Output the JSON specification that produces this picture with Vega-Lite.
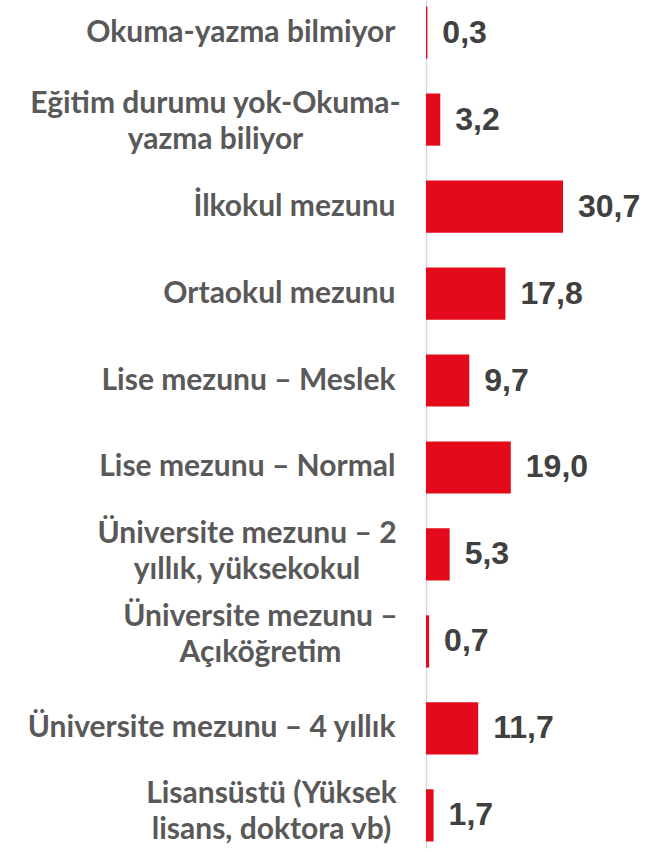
{
  "$schema": "https://vega.github.io/schema/vega-lite/v6.json",
  "width": 241,
  "height": 848,
  "autosize": {"type": "none"},
  "padding": {"left": 426, "top": 0, "right": 0, "bottom": 4},
  "background": "#ffffff",
  "data": {
    "values": [
      {"kategori": "Okuma-yazma bilmiyor", "deger": 0.3},
      {"kategori": "Eğitim durumu yok-Okuma-|yazma biliyor", "deger": 3.2},
      {"kategori": "İlkokul mezunu", "deger": 30.7},
      {"kategori": "Ortaokul mezunu", "deger": 17.8},
      {"kategori": "Lise mezunu – Meslek", "deger": 9.7},
      {"kategori": "Lise mezunu – Normal", "deger": 19.0},
      {"kategori": "Üniversite mezunu – 2|yıllık, yüksekokul", "deger": 5.3},
      {"kategori": "Üniversite mezunu –|Açıköğretim", "deger": 0.7},
      {"kategori": "Üniversite mezunu – 4 yıllık", "deger": 11.7},
      {"kategori": "Lisansüstü (Yüksek|lisans, doktora vb)", "deger": 1.7}
    ]
  },
  "encoding": {
    "y": {
      "field": "kategori",
      "type": "nominal",
      "sort": null,
      "scale": {"paddingInner": 0.4, "paddingOuter": 0.075},
      "axis": {
        "title": null,
        "ticks": false,
        "grid": false,
        "domain": true,
        "domainColor": "#d9d9d9",
        "domainWidth": 1.5,
        "labelExpr": "split(datum.label, '|')",
        "labelFont": "Lato",
        "labelFontWeight": "bold",
        "labelFontSize": 30,
        "labelColor": "#595959",
        "labelLineHeight": 36,
        "labelLimit": 0,
        "labelBaseline": "middle",
        "labelAlign": {
          "condition": {"test": "indexof(datum.value, '|') >= 0", "value": "center"},
          "value": "right"
        },
        "labelPadding": {
          "condition": [
            {"test": "indexof(datum.value, 'Eğitim') >= 0", "value": 211},
            {"test": "indexof(datum.value, '– 2|') >= 0", "value": 179.5},
            {"test": "indexof(datum.value, 'Açık') >= 0", "value": 166},
            {"test": "indexof(datum.value, 'Lisans') >= 0", "value": 155}
          ],
          "value": 31
        },
        "labelOffset": {
          "condition": [
            {"test": "indexof(datum.value, 'Eğitim') >= 0", "value": -16},
            {"test": "indexof(datum.value, '– 2|') >= 0", "value": -20},
            {"test": "indexof(datum.value, 'Açık') >= 0", "value": -24},
            {"test": "indexof(datum.value, 'Lisans') >= 0", "value": -21}
          ],
          "value": 0
        }
      }
    },
    "x": {
      "field": "deger",
      "type": "quantitative",
      "scale": {"domain": [0, 54], "nice": false},
      "axis": null
    }
  },
  "layer": [
    {"mark": {"type": "bar", "color": "#E30A1C"}},
    {
      "mark": {
        "type": "text",
        "align": "left",
        "baseline": "middle",
        "dx": 15,
        "font": "Liberation Sans",
        "fontWeight": "bold",
        "fontSize": 32,
        "color": "#404040"
      },
      "encoding": {
        "text": {"field": "deger", "type": "quantitative", "format": ".1f", "formatType": "number"}
      }
    }
  ],
  "config": {
    "view": {"stroke": null},
    "locale": {"number": {"decimal": ",", "thousands": ".", "grouping": [3], "currency": ["", " TL"]}}
  }
}
